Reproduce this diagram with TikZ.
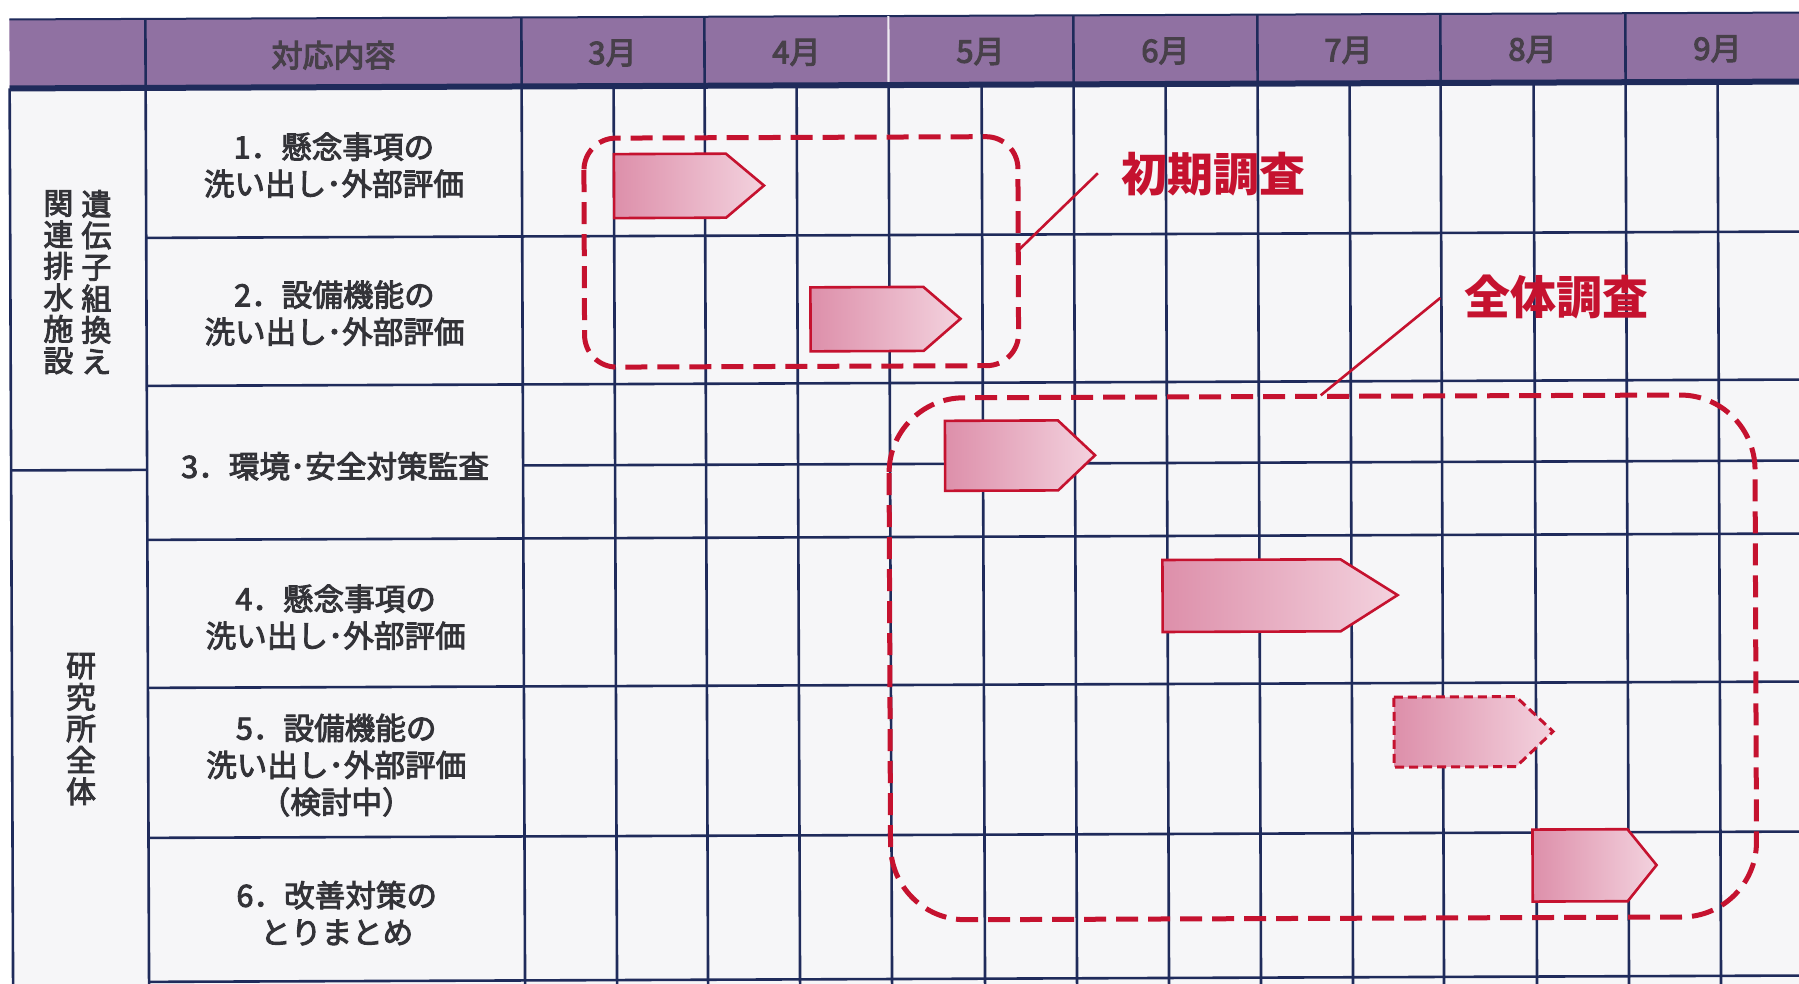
\documentclass[tikz,border=0pt]{standalone}
\usepackage{fontspec}
\setmainfont{Noto Sans CJK JP}
\newfontfamily\jpmed{Noto Sans CJK JP}[FakeBold=3]
\newfontfamily\jphd{Noto Sans CJK JP}[FakeBold=3.5]
\definecolor{navy}{HTML}{1F2B5B}
\definecolor{hdr}{HTML}{9071A2}
\definecolor{hdrtxt}{HTML}{474049}
\definecolor{txt}{HTML}{333338}
\definecolor{redc}{HTML}{C5122F}
\definecolor{pinkD}{HTML}{DD8FAA}
\definecolor{pinkL}{HTML}{F3D2DE}
\definecolor{bgc}{HTML}{F6F6F8}
\tikzset{
  grid/.style={draw=navy, line width=2.6pt},
  hdrlabel/.style={text=hdrtxt, font=\jphd\fontsize{31}{34}\selectfont, anchor=center, inner sep=0pt},
  rowtext/.style={text=txt, font=\jpmed\fontsize{30.6}{37}\selectfont, align=center, anchor=center, inner sep=0pt},
  vtext/.style={text=txt, font=\jpmed\fontsize{30}{31.5}\selectfont, align=center, anchor=center, inner sep=0pt},
  bar/.style={draw=redc, line width=2.6pt, line join=miter, left color=pinkD, right color=pinkL},
  dbar/.style={draw=redc, line width=3pt, dash pattern=on 9pt off 5pt, left color=pinkD, right color=pinkL},
  dbox/.style={draw=redc, line width=5pt, dash pattern=on 22pt off 10pt},
  leader/.style={draw=redc, line width=2.6pt},
  tag/.style={text=redc, font=\fontsize{46}{50}\selectfont\bfseries, anchor=center, inner sep=0pt}
}
\begin{document}
\begin{tikzpicture}[x=1pt,y=-1pt]
\useasboundingbox (0,0) rectangle (1799,983);
\fill[white] (0,0) rectangle (1799,983);
\begin{scope}[rotate around={0.22:(900,450)}]
\fill[bgc] (11,16) rectangle (1830,1000);
% header band
\fill[hdr] (11,16) rectangle (1830,85);
\draw[draw=navy, line width=2pt] (11,16) -- (1830,16);
\foreach \x in {147,523,706,1075,1259,1442,1627} \draw[grid] (\x,16) -- (\x,85);
\draw[draw=white!85!hdr, line width=2.2pt] (890,16) -- (890,85);
% body verticals
\foreach \x in {11,147,523,615,706,798,890,983,1075,1167,1259,1351,1442,1535,1627,1719}
  \draw[grid] (\x,85) -- (\x,1000);
% body horizontals
\draw[grid] (11,467) -- (147,467);
\foreach \y in {235,383,537,685,835,979} \draw[grid] (147,\y) -- (1830,\y);
\draw[grid] (523,464) -- (1830,464);
\draw[draw=navy, line width=6pt] (11,85) -- (1830,85);
% header labels
\node[hdrlabel] (h0) at (335,53) {対応内容};
\node[hdrlabel] (m3) at (614,52) {3月};
\node[hdrlabel] (m4) at (798,52) {4月};
\node[hdrlabel] (m5) at (982,52) {5月};
\node[hdrlabel] (m6) at (1167,52) {6月};
\node[hdrlabel] (m7) at (1350,52) {7月};
\node[hdrlabel] (m8) at (1534,52) {8月};
\node[hdrlabel] (m9) at (1719,52) {9月};
% group labels
\node[vtext] (g1a) at (97,279) {遺\\伝\\子\\組\\換\\え};
\node[vtext] (g1b) at (59,279) {関\\連\\排\\水\\施\\設};
\node[vtext] (g2) at (80,726) {研\\究\\所\\全\\体};
% row texts
\node[rowtext] (r1) at (335,163) {1．懸念事項の\\洗い出し･外部評価};
\node[rowtext] (r2) at (335,311) {2．設備機能の\\洗い出し･外部評価};
\node[rowtext] (r3) at (335,464) {3．環境･安全対策監査};
\node[rowtext] (r4) at (335,615) {4．懸念事項の\\洗い出し･外部評価};
\node[rowtext] (r5) at (335,763) {5．設備機能の\\洗い出し･外部評価\\（検討中）};
\node[rowtext] (r6) at (335,911) {6．改善対策の\\とりまとめ};
% gantt bars
\draw[bar] (615,153) -- (727,153) -- (765,185) -- (727,217) -- (615,217) -- cycle;
\draw[bar] (811,287) -- (924,287) -- (961,319) -- (924,351) -- (811,351) -- cycle;
\draw[bar] (945,421) -- (1058,421) -- (1095,456) -- (1058,491) -- (945,491) -- cycle;
\draw[bar] (1162,561) -- (1340,561) -- (1397,597) -- (1340,633) -- (1162,633) -- cycle;
\draw[dbar] (1393,699) -- (1515,699) -- (1552,734) -- (1515,769) -- (1393,769) -- cycle;
\draw[bar] (1531,832) -- (1626,832) -- (1655,868) -- (1626,904) -- (1531,904) -- cycle;
% dashed group boxes
\draw[dbox, rounded corners=32pt] (585,137) rectangle (1019,366);
\draw[dbox, rounded corners=75pt] (889,398) rectangle (1755,920);
% tags and leaders
\node[tag] (t1) at (1215,175) {初期調査};
\node[tag] (t2) at (1557,300) {全体調査};
\coordinate (b1) at (1020,250);
\coordinate (e1) at (1099,174);
\coordinate (b2) at (1321,397);
\coordinate (e2) at (1441,300);
\draw[leader] (b1) -- (e1);
\draw[leader] (b2) -- (e2);
\end{scope}
\end{tikzpicture}
\end{document}
